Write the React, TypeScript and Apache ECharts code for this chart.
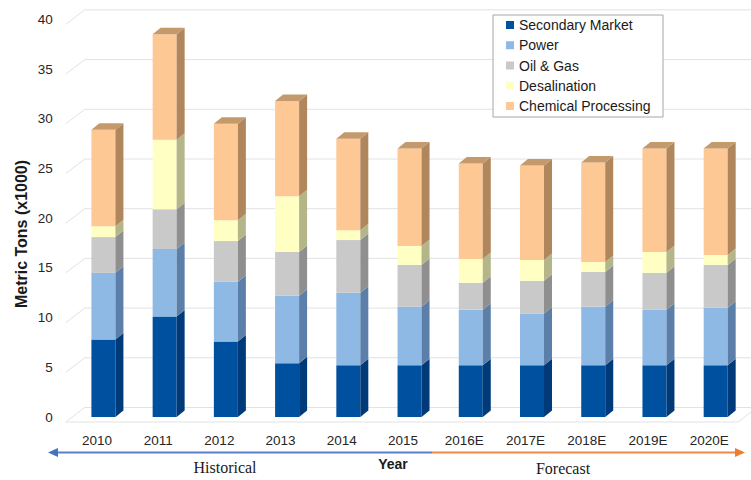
import React, { useEffect, useRef } from "react";
import * as echarts from "echarts";

const categories = ["2010", "2011", "2012", "2013", "2014", "2015", "2016E", "2017E", "2018E", "2019E", "2020E"];
const seriesNames = ["Secondary Market", "Power", "Oil & Gas", "Desalination", "Chemical Processing"];
const secondaryMarket = [7.8, 10.1, 7.6, 5.4, 5.2, 5.2, 5.2, 5.2, 5.2, 5.2, 5.2];
const power = [6.7, 6.8, 6.0, 6.8, 7.3, 5.9, 5.6, 5.2, 5.9, 5.6, 5.8];
const oilGas = [3.6, 4.0, 4.1, 4.4, 5.3, 4.2, 2.7, 3.3, 3.5, 3.7, 4.3];
const desalination = [1.1, 7.0, 2.1, 5.6, 1.0, 1.9, 2.4, 2.1, 1.0, 2.1, 1.0];
const chemicalProcessing = [9.7, 10.6, 9.7, 9.6, 9.2, 9.8, 9.6, 9.5, 10.0, 10.4, 10.7];
const yTicks = [0, 5, 10, 15, 20, 25, 30, 35, 40];

const frontColors = ["#0050a0", "#8db9e4", "#c9c9c9", "#ffffc4", "#fdc894"];
const sideColors = ["#003a78", "#5b7fa8", "#8f8f8f", "#b5b58a", "#b0865d"];
const topColor = "#c4996c";

const SANS = "'Liberation Sans', Arial, sans-serif";
const SERIF = "'Liberation Serif', 'Times New Roman', serif";

const BAR_W = 24;
const DX = 8;
const DY = 6.5;

export default function App() {
  const ref = useRef<HTMLDivElement>(null);

  useEffect(() => {
    if (!ref.current) return;
    const chart = echarts.init(ref.current, undefined, { renderer: "svg" });

    const values = [secondaryMarket, power, oilGas, desalination, chemicalProcessing];
    const bases = categories.map(() => 0);
    const stacked = values.map((arr) =>
      arr.map((v, i) => {
        const lo = bases[i];
        const hi = lo + v;
        bases[i] = hi;
        return [i, lo, hi];
      })
    );

    const makeRender = (si: number, isTop: boolean) => (params: any, api: any) => {
      const ci = api.value(0);
      const lo = api.value(1);
      const hi = api.value(2);
      const pLo = api.coord([ci, lo]);
      const pHi = api.coord([ci, hi]);
      const x0 = pLo[0] - BAR_W / 2;
      const x1 = pLo[0] + BAR_W / 2;
      const children: any[] = [
        {
          type: "rect",
          shape: { x: x0, y: pHi[1], width: BAR_W, height: pLo[1] - pHi[1] },
          style: { fill: frontColors[si] },
        },
        {
          type: "polygon",
          shape: {
            points: [
              [x1, pLo[1]],
              [x1 + DX, pLo[1] - DY],
              [x1 + DX, pHi[1] - DY],
              [x1, pHi[1]],
            ],
          },
          style: { fill: sideColors[si] },
        },
      ];
      if (isTop) {
        children.push({
          type: "polygon",
          shape: {
            points: [
              [x0, pHi[1]],
              [x0 + DX, pHi[1] - DY],
              [x1 + DX, pHi[1] - DY],
              [x1, pHi[1]],
            ],
          },
          style: { fill: topColor },
        });
      }
      return { type: "group", children };
    };

    const gridRender = (params: any, api: any) => {
      const v = api.value(1);
      const p = api.coord([0, v]);
      const yb = p[1];
      const cs = params.coordSys;
      const xl = cs.x - 7;
      const children: any[] = [
        {
          type: "polyline",
          shape: {
            points: [
              [xl, yb + 5],
              [xl + 19, yb - 9.5],
              [751, yb - 9.5],
            ],
          },
          style: { stroke: "#e2e2e2", lineWidth: 1, fill: "none" },
        },
      ];
      if (v === 0) {
        children.push({
          type: "polyline",
          shape: {
            points: [
              [xl, yb + 5],
              [738, yb + 5],
              [751, yb - 5],
            ],
          },
          style: { stroke: "#e2e2e2", lineWidth: 1, fill: "none" },
        });
      }
      return { type: "group", children };
    };

    const series: any[] = [
      {
        type: "custom",
        name: "grid",
        silent: true,
        renderItem: gridRender,
        encode: { x: 0, y: 1 },
        data: yTicks.map((v) => [0, v]),
        z: 1,
      },
      ...seriesNames.map((name, si) => ({
        type: "custom",
        name,
        renderItem: makeRender(si, si === seriesNames.length - 1),
        encode: { x: 0, y: [1, 2] },
        itemStyle: { color: frontColors[si] },
        data: stacked[si],
        z: 2,
      })),
    ];

    const option: any = {
      animation: false,
      backgroundColor: "#ffffff",
      grid: { left: 72.8, right: 4.7, top: 19.4, bottom: 63 },
      xAxis: {
        type: "category",
        data: categories,
        axisLine: { show: false },
        axisTick: { show: false },
        splitLine: { show: false },
        axisLabel: {
          margin: 16,
          fontSize: 13.5,
          fontFamily: SANS,
          color: "#262626",
          padding: [0, 13, 0, 0],
        },
      },
      yAxis: {
        type: "value",
        min: 0,
        max: 40,
        interval: 5,
        axisLine: { show: false },
        axisTick: { show: false },
        splitLine: { show: false },
        axisLabel: {
          margin: 20,
          fontSize: 13.5,
          fontFamily: SANS,
          color: "#262626",
          padding: [10, 0, 0, 0],
        },
      },
      legend: {
        orient: "vertical",
        left: 506,
        top: 17,
        padding: 0,
        itemGap: 4.25,
        itemWidth: 8,
        itemHeight: 8,
        icon: "rect",
        z: 10,
        data: seriesNames,
        textStyle: {
          fontSize: 14,
          fontFamily: SANS,
          color: "#1a1a1a",
          lineHeight: 16,
        },
      },
      graphic: [
        {
          type: "rect",
          z: 5,
          shape: { x: 493, y: 15, width: 170, height: 102 },
          style: { fill: "#ffffff", stroke: "#a6a6a6", lineWidth: 1 },
        },
        {
          type: "text",
          x: 21,
          y: 234,
          rotation: Math.PI / 2,
          style: {
            text: "Metric Tons (x1000)",
            fontSize: 16,
            fontWeight: "bold",
            fontFamily: SANS,
            fill: "#1a1a1a",
            align: "center",
            verticalAlign: "middle",
            textAlign: "center",
            textVerticalAlign: "middle",
          },
        },
        {
          type: "line",
          shape: { x1: 56, y1: 452.5, x2: 432, y2: 452.5 },
          style: { stroke: "#5b7fc8", lineWidth: 2 },
        },
        {
          type: "polygon",
          shape: { points: [[48, 452.5], [58, 448], [58, 457]] },
          style: { fill: "#4472c4" },
        },
        {
          type: "line",
          shape: { x1: 432, y1: 452.5, x2: 738, y2: 452.5 },
          style: { stroke: "#ed8a45", lineWidth: 2 },
        },
        {
          type: "polygon",
          shape: { points: [[745, 452.5], [735, 448], [735, 457]] },
          style: { fill: "#ed7d31" },
        },
        {
          type: "text",
          x: 393,
          y: 464,
          style: {
            text: "Year",
            fontSize: 14,
            fontWeight: "bold",
            fontFamily: SANS,
            fill: "#1a1a1a",
            align: "center",
            verticalAlign: "middle",
            textAlign: "center",
            textVerticalAlign: "middle",
          },
        },
        {
          type: "text",
          x: 225,
          y: 467,
          style: {
            text: "Historical",
            fontSize: 16,
            fontFamily: SERIF,
            fill: "#1a1a1a",
            align: "center",
            verticalAlign: "middle",
            textAlign: "center",
            textVerticalAlign: "middle",
          },
        },
        {
          type: "text",
          x: 563,
          y: 468,
          style: {
            text: "Forecast",
            fontSize: 16,
            fontFamily: SERIF,
            fill: "#1a1a1a",
            align: "center",
            verticalAlign: "middle",
            textAlign: "center",
            textVerticalAlign: "middle",
          },
        },
      ],
      series,
    };

    chart.setOption(option);
    return () => chart.dispose();
  }, []);

  return (
    <div
      ref={ref}
      style={{ position: "absolute", left: 0, top: 0, width: 751, height: 480 }}
    />
  );
}
